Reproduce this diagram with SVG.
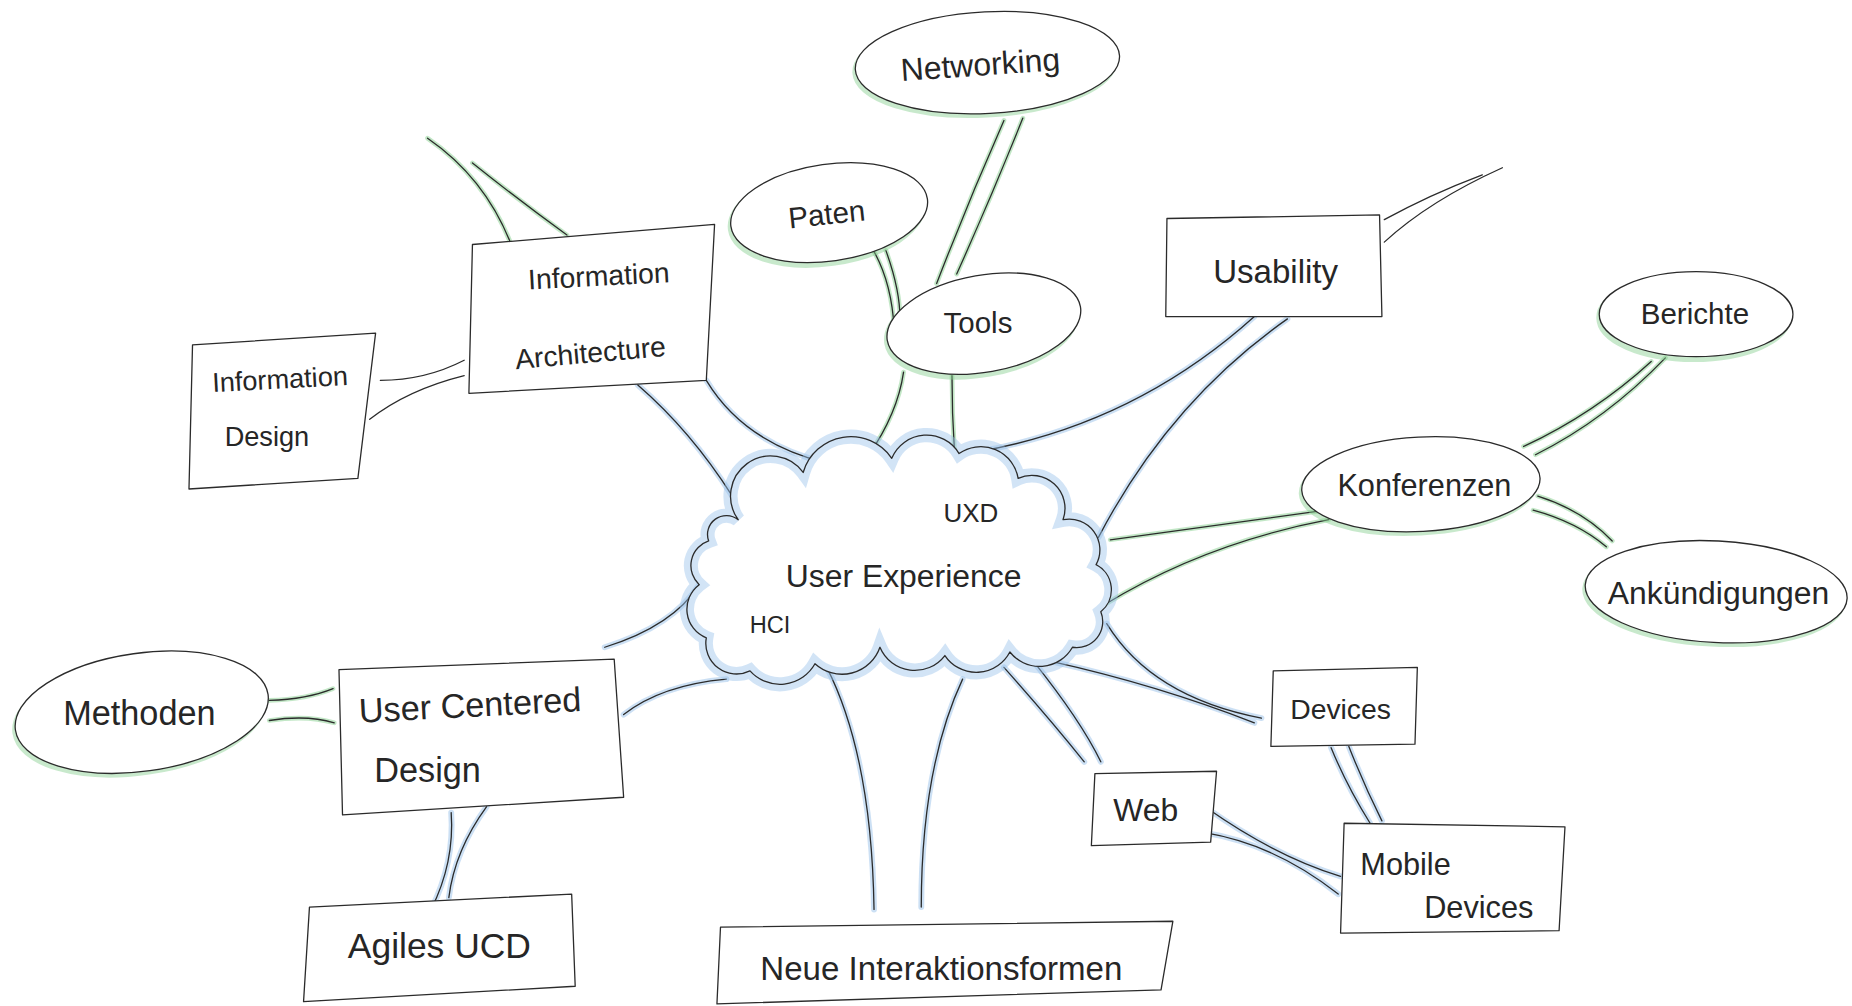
<svg xmlns="http://www.w3.org/2000/svg" width="1852" height="1006" viewBox="0 0 1852 1006">
<style>
  .ink{fill:none;stroke:#2b2b2b;stroke-width:1.1;stroke-linecap:round;stroke-linejoin:round}
  .hb{fill:none;stroke:#8dbbe6;stroke-width:5;stroke-opacity:0.45;stroke-linecap:round}
  .hg{fill:none;stroke:#86cf8e;stroke-width:4;stroke-opacity:0.5;stroke-linecap:round}
  .box{fill:#fff;stroke:#2b2b2b;stroke-width:1.1;stroke-linejoin:round}
  .ell{fill:#fff;stroke:#2b2b2b;stroke-width:1.1}
  .ellg{fill:none;stroke:#86cf8e;stroke-width:5;stroke-opacity:0.45}
  .t{font-family:"Liberation Sans","DejaVu Sans",sans-serif;fill:#262626;text-anchor:middle;font-weight:normal}
</style>
<rect width="1852" height="1006" fill="#ffffff"/>
<g transform="scale(1.18112)">
<g id="connectors">
  <!-- Cloud - Information Architecture -->
  <path class="hb" d="M540,326 Q585,365 620,420 M598,322 Q630,375 700,392"/>
  <path class="ink" d="M540,326 Q585,365 620,420 M598,322 Q630,375 700,392"/>
  <!-- IA loose branch up -->
  <path class="hg" d="M432,205 Q410,150 362,117 M480,199 Q440,170 400,138" stroke-opacity="0.25"/>
  <path class="ink" d="M432,205 Q410,150 362,117 M480,199 Q440,170 400,138"/>
  <!-- IA - Information Design -->
  <path class="ink" d="M393,305 Q360,322 322,322 M393,318 Q345,330 313,355"/>
  <!-- Cloud - Tools -->
  <path class="hg" d="M735,386 Q760,350 765,315 M808,380 Q806,350 806,318"/>
  <path class="ink" d="M735,386 Q760,350 765,315 M808,380 Q806,350 806,318"/>
  <!-- Tools - Paten -->
  <path class="hg" d="M740,213 Q755,240 757,278 M750,212 Q762,245 762,270"/>
  <path class="ink" d="M740,213 Q755,240 757,278 M750,212 Q762,245 762,270"/>
  <!-- Tools - Networking -->
  <path class="hg" d="M793,240 Q820,170 850,102 M810,232 Q840,165 866,100"/>
  <path class="ink" d="M793,240 Q820,170 850,102 M810,232 Q840,165 866,100"/>
  <!-- Cloud - Usability -->
  <path class="hb" d="M825,383 Q960,360 1062,268 M930,455 Q990,340 1090,270"/>
  <path class="ink" d="M825,383 Q960,360 1062,268 M930,455 Q990,340 1090,270"/>
  <!-- Usability loose branch -->
  <path class="ink" d="M1172,205 Q1210,170 1272,142 M1172,186 Q1210,165 1255,148"/>
  <!-- Konferenzen - Cloud -->
  <path class="hg" d="M1115,433 Q1030,445 940,457 M1125,440 Q1020,460 935,512"/>
  <path class="ink" d="M1115,433 Q1030,445 940,457 M1125,440 Q1020,460 935,512"/>
  <!-- Konferenzen - Berichte -->
  <path class="hg" d="M1290,378 Q1350,350 1398,306 M1300,385 Q1360,355 1410,303"/>
  <path class="ink" d="M1290,378 Q1350,350 1398,306 M1300,385 Q1360,355 1410,303"/>
  <!-- Konferenzen - Ankuendigungen -->
  <path class="hg" d="M1302,420 Q1340,432 1365,458 M1298,432 Q1335,442 1360,463"/>
  <path class="ink" d="M1302,420 Q1340,432 1365,458 M1298,432 Q1335,442 1360,463"/>
  <!-- Cloud - Devices -->
  <path class="hb" d="M937,528 Q975,590 1068,608 M890,560 Q980,580 1062,612"/>
  <path class="ink" d="M937,528 Q975,590 1068,608 M890,560 Q980,580 1062,612"/>
  <!-- Cloud - Web -->
  <path class="hb" d="M875,560 Q915,610 932,645 M850,565 Q890,610 918,645"/>
  <path class="ink" d="M875,560 Q915,610 932,645 M850,565 Q890,610 918,645"/>
  <!-- Cloud - Neue Interaktionsformen -->
  <path class="hb" d="M700,565 Q738,640 740,770 M815,575 Q780,650 780,768"/>
  <path class="ink" d="M700,565 Q738,640 740,770 M815,575 Q780,650 780,768"/>
  <!-- Cloud - User Centered Design -->
  <path class="hb" d="M592,495 Q570,530 512,548 M615,575 Q560,580 528,605"/>
  <path class="ink" d="M592,495 Q570,530 512,548 M615,575 Q560,580 528,605"/>
  <!-- UCD - Methoden -->
  <path class="hg" d="M282,583 Q260,592 228,593 M283,612 Q260,605 228,610"/>
  <path class="ink" d="M282,583 Q260,592 228,593 M283,612 Q260,605 228,610"/>
  <!-- UCD - Agiles UCD -->
  <path class="hb" d="M382,688 Q385,730 365,770 M412,683 Q385,720 380,760" stroke-opacity="0.3"/>
  <path class="ink" d="M382,688 Q385,730 365,770 M412,683 Q385,720 380,760"/>
  <!-- Web - Mobile Devices -->
  <path class="hb" d="M1023,685 Q1080,725 1135,742 M1020,705 Q1080,715 1133,757" stroke-opacity="0.3"/>
  <path class="ink" d="M1023,685 Q1080,725 1135,742 M1020,705 Q1080,715 1133,757"/>
  <!-- Devices - Mobile Devices -->
  <path class="hb" d="M1127,633 Q1140,665 1160,697 M1142,632 Q1155,665 1170,695" stroke-opacity="0.3"/>
  <path class="ink" d="M1127,633 Q1140,665 1160,697 M1142,632 Q1155,665 1170,695"/>
</g>

<g id="user-experience">
  <path d="M625,440 A32,32 0 0 1 680,400 A42,42 0 0 1 755,388 A32,32 0 0 1 812,384 A32,32 0 0 1 862,405 A28,28 0 0 1 900,440 A26,26 0 0 1 928,478 A24,24 0 0 1 932,518 A22,22 0 0 1 908,548 A32,32 0 0 1 855,552 A32,32 0 0 1 800,555 A32,32 0 0 1 745,548 A34,34 0 0 1 690,562 A34,34 0 0 1 635,568 A26,26 0 0 1 598,540 A26,26 0 0 1 592,495 A22,22 0 0 1 600,458 A16,16 0 0 1 625,440 Z" fill="#fff" stroke="#9cc4ea" stroke-width="12" stroke-opacity="0.45"/>
  <path d="M625,440 A32,32 0 0 1 680,400 A42,42 0 0 1 755,388 A32,32 0 0 1 812,384 A32,32 0 0 1 862,405 A28,28 0 0 1 900,440 A26,26 0 0 1 928,478 A24,24 0 0 1 932,518 A22,22 0 0 1 908,548 A32,32 0 0 1 855,552 A32,32 0 0 1 800,555 A32,32 0 0 1 745,548 A34,34 0 0 1 690,562 A34,34 0 0 1 635,568 A26,26 0 0 1 598,540 A26,26 0 0 1 592,495 A22,22 0 0 1 600,458 A16,16 0 0 1 625,440 Z" class="ink"/>
  <text class="t" x="822" y="442" font-size="22">UXD</text>
  <text class="t" x="765" y="497" font-size="27">User Experience</text>
  <text class="t" x="652" y="536" font-size="20">HCI</text>
</g>

<g id="networking">
  <ellipse class="ellg" cx="834" cy="56" rx="110" ry="41" transform="rotate(-3 834 56)"/>
  <ellipse class="ell" cx="836" cy="53" rx="112" ry="43" transform="rotate(-3 836 53)"/>
  <text class="t" x="830" y="64" font-size="27" transform="rotate(-4 830 55)">Networking</text>
</g>
<g id="paten">
  <ellipse class="ellg" cx="700" cy="183" rx="82" ry="40" transform="rotate(-8 700 183)"/>
  <ellipse class="ell" cx="702" cy="180" rx="84" ry="41" transform="rotate(-8 702 180)"/>
  <text class="t" x="700" y="190" font-size="25" transform="rotate(-6 700 182)">Paten</text>
</g>
<g id="tools">
  <ellipse class="ellg" cx="831" cy="277" rx="81" ry="40" transform="rotate(-10 831 277)"/>
  <ellipse class="ell" cx="833" cy="274" rx="83" ry="41" transform="rotate(-10 833 274)"/>
  <text class="t" x="828" y="282" font-size="25">Tools</text>
</g>
<g id="usability">
  <polygon class="box" points="988,185 1168,182 1170,268 987,268"/>
  <text class="t" x="1080" y="240" font-size="28">Usability</text>
</g>
<g id="information-architecture">
  <polygon class="box" points="400,207 605,190 598,322 397,333"/>
  <text class="t" x="507" y="242" font-size="24" transform="rotate(-3 507 234)">Information</text>
  <text class="t" x="500" y="307" font-size="24" transform="rotate(-5 500 300)">Architecture</text>
</g>
<g id="information-design">
  <polygon class="box" points="163,292 318,282 303,405 160,414"/>
  <text class="t" x="237" y="329" font-size="23" transform="rotate(-3 237 320)">Information</text>
  <text class="t" x="226" y="378" font-size="23">Design</text>
</g>
<g id="berichte">
  <ellipse class="ellg" cx="1434" cy="269" rx="80" ry="35"/>
  <ellipse class="ell" cx="1436" cy="266" rx="82" ry="36"/>
  <text class="t" x="1435" y="274" font-size="25">Berichte</text>
</g>
<g id="konferenzen">
  <ellipse class="ellg" cx="1201" cy="413" rx="99" ry="38" transform="rotate(-3 1201 413)"/>
  <ellipse class="ell" cx="1203" cy="410" rx="101" ry="40" transform="rotate(-3 1203 410)"/>
  <text class="t" x="1206" y="420" font-size="26">Konferenzen</text>
</g>
<g id="ankuendigungen">
  <ellipse class="ellg" cx="1451" cy="504" rx="109" ry="41" transform="rotate(3 1451 504)"/>
  <ellipse class="ell" cx="1453" cy="501" rx="111" ry="43" transform="rotate(3 1453 501)"/>
  <text class="t" x="1455" y="511" font-size="27">Ankündigungen</text>
</g>
<g id="methoden">
  <ellipse class="ellg" cx="118" cy="606" rx="106" ry="48" transform="rotate(-8 118 606)"/>
  <ellipse class="ell" cx="120" cy="603" rx="108" ry="50" transform="rotate(-8 120 603)"/>
  <text class="t" x="118" y="614" font-size="29">Methoden</text>
</g>
<g id="user-centered-design">
  <polygon class="box" points="287,567 520,558 528,675 290,690"/>
  <text class="t" x="398" y="607" font-size="29" transform="rotate(-3 398 598)">User Centered</text>
  <text class="t" x="362" y="662" font-size="29">Design</text>
</g>
<g id="agiles-ucd">
  <polygon class="box" points="262,768 484,757 487,835 257,848"/>
  <text class="t" x="372" y="811" font-size="30">Agiles UCD</text>
</g>
<g id="neue-interaktionsformen">
  <polygon class="box" points="610,785 993,780 983,838 607,850"/>
  <text class="t" x="797" y="830" font-size="28">Neue Interaktionsformen</text>
</g>
<g id="devices">
  <polygon class="box" points="1078,568 1200,565 1198,630 1076,632"/>
  <text class="t" x="1135" y="609" font-size="24">Devices</text>
</g>
<g id="web">
  <polygon class="box" points="927,655 1030,653 1025,713 924,716"/>
  <text class="t" x="970" y="695" font-size="27">Web</text>
</g>
<g id="mobile-devices">
  <polygon class="box" points="1138,697 1325,700 1320,788 1135,790"/>
  <text class="t" x="1190" y="741" font-size="26">Mobile</text>
  <text class="t" x="1252" y="777" font-size="26">Devices</text>
</g>
</g>
</svg>
